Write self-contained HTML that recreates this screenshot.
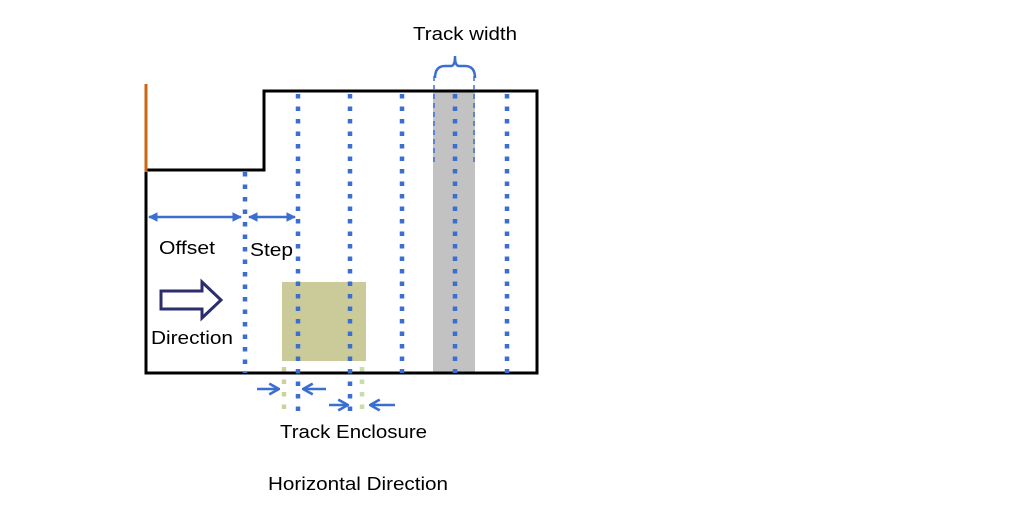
<!DOCTYPE html>
<html><head><meta charset="utf-8"><style>
body{margin:0;background:#fff;}
svg{display:block;}
text{font-family:"Liberation Sans",Arial,sans-serif;font-size:18px;fill:#000;}
</style></head><body>
<svg width="1013" height="520" viewBox="0 0 1013 520" xmlns="http://www.w3.org/2000/svg">
<defs>
<marker id="ah" viewBox="0 0 10 10" refX="9" refY="5" markerWidth="4" markerHeight="4" orient="auto-start-reverse">
<path d="M0,0 L10,5 L0,10 z" fill="#3a6fd0"/></marker>
<marker id="oh" viewBox="0 0 12 12" refX="11" refY="6" markerWidth="13" markerHeight="13" markerUnits="userSpaceOnUse" orient="auto">
<path d="M2,1 L11,6 L2,11" fill="none" stroke="#3a6fd0" stroke-width="2.4"/></marker>
</defs>
<rect x="433" y="91" width="42" height="282" fill="#c2c2c2"/>
<rect x="282" y="282" width="84" height="79" fill="#cbcb9a"/>
<path d="M146,170 L264,170 L264,91 L537,91 L537,373 L146,373 Z" fill="none" stroke="#000" stroke-width="3"/>
<line x1="146" y1="84" x2="146" y2="172" stroke="#cc6611" stroke-width="3"/>
<g stroke="#3a6fd0" stroke-width="4.5" stroke-dasharray="4.5 8" fill="none">
<line x1="245" y1="172" x2="245" y2="373"/>
<line x1="298" y1="94" x2="298" y2="414"/>
<line x1="350" y1="94" x2="350" y2="414"/>
<line x1="402" y1="94" x2="402" y2="373"/>
<line x1="455" y1="94" x2="455" y2="373"/>
<line x1="507" y1="94" x2="507" y2="373"/>
</g>
<g stroke-width="4.5" stroke-dasharray="4.5 8" fill="none">
<line x1="284" y1="367" x2="284" y2="414" stroke="#cfcf9a"/>
<line x1="362" y1="367" x2="362" y2="414" stroke="#c4e0a8"/>
</g>
<g stroke="#3a6fd0" stroke-width="1.5" stroke-dasharray="5 4">
<line x1="434" y1="76" x2="434" y2="165"/>
<line x1="474" y1="76" x2="474" y2="165"/>
</g>
<path d="M435,78 Q435,66 445,66 L451,66 Q455,66 455,56 Q455,66 459,66 L465,66 Q475,66 475,78" fill="none" stroke="#3a6fd0" stroke-width="2.5"/>
<g stroke="#3a6fd0" stroke-width="2.4">
<line x1="149" y1="217" x2="241" y2="217" marker-start="url(#ah)" marker-end="url(#ah)"/>
<line x1="249" y1="217" x2="295" y2="217" marker-start="url(#ah)" marker-end="url(#ah)"/>
<line x1="257" y1="389" x2="279" y2="389" marker-end="url(#oh)"/>
<line x1="326" y1="389" x2="303" y2="389" marker-end="url(#oh)"/>
<line x1="329" y1="405" x2="348" y2="405" marker-end="url(#oh)"/>
<line x1="395" y1="405" x2="370" y2="405" marker-end="url(#oh)"/>
</g>
<path d="M161,291 L202,291 L202,282 L221,300 L202,318 L202,309 L161,309 Z" fill="#fff" stroke="#2b2e6b" stroke-width="3" stroke-linejoin="miter"/>
<text x="159" y="254" textLength="56" lengthAdjust="spacingAndGlyphs">Offset</text>
<text x="250" y="256" textLength="43" lengthAdjust="spacingAndGlyphs">Step</text>
<text x="151" y="344" textLength="82" lengthAdjust="spacingAndGlyphs">Direction</text>
<text x="280" y="438" textLength="147" lengthAdjust="spacingAndGlyphs">Track Enclosure</text>
<text x="268" y="490" textLength="180" lengthAdjust="spacingAndGlyphs">Horizontal Direction</text>
<text x="413" y="40" textLength="104" lengthAdjust="spacingAndGlyphs">Track width</text>
</svg>
</body></html>
